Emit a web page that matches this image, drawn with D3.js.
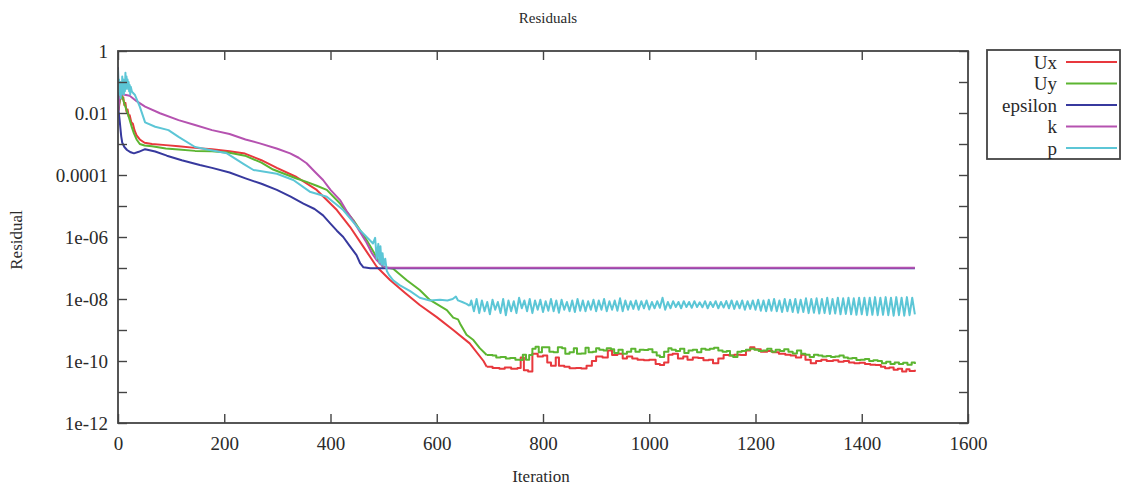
<!DOCTYPE html>
<html><head><meta charset="utf-8">
<script src="https://cdn.jsdelivr.net/npm/d3@7"></script>
<style>
html,body{margin:0;padding:0;background:#fff;}
text{font-family:"Liberation Serif","Times New Roman",serif;fill:#2a2a2a;}
</style></head>
<body><svg id="c" width="1128" height="490"></svg>
<script>
// ---------------- DATA ----------------
const seriesNames = ["Ux","Uy","epsilon","k","p"];
const seriesColors = ["#e8383d","#5cb531","#37399e","#b552b0","#5cc6d6"];
const xTicks = [0,200,400,600,800,1000,1200,1400,1600];
const yTicks = [1,1e-1,1e-2,1e-3,1e-4,1e-5,1e-6,1e-7,1e-8,1e-9,1e-10,1e-11,1e-12];
const yTickLabels = {"1":"1","0.01":"0.01","0.0001":"0.0001","1e-6":"1e-06","1e-8":"1e-08","1e-10":"1e-10","1e-12":"1e-12"};

// [iteration, residual]
const UxHead = [[1,0.012],[4,0.03],[6,0.04],[8,0.028],[10,0.032],[12,0.018],[14,0.021],[16,0.011],[18,0.013],[20,0.008],[22,0.0085],[25,0.005],[28,0.0045],[31,0.0028],[35,0.0019],[41,0.0014],[50,0.0011],[64,0.001],[90,0.00092],[114,0.00085],[145,0.00075],[177,0.00068],[210,0.00058],[239,0.00049],[270,0.0003],[299,0.00017],[336,8.6e-5],[374,3.3e-5],[412,7.4e-6],[437,2.1e-6],[462,4.8e-7],[487,1.1e-7],[512,4.1e-8],[540,1.6e-8],[568,6.4e-9],[600,2.6e-9],[631,1e-9],[662,3.7e-10],[688,1e-10],[694,6.5e-11]];
const UxTail = [[694,6.5e-11],[705,6e-11],[718,5.6e-11],[728,6.2e-11],[740,5.6e-11],[752,6e-11],[758,1.3e-10],[764,5e-11],[772,4.6e-11],[780,1.7e-10],[790,1.4e-10],[800,1.5e-10],[808,9e-11],[815,7e-11],[824,1.3e-10],[830,7e-11],[840,6.5e-11],[850,5.8e-11],[862,6e-11],[872,5.7e-11],[882,7e-11],[892,1e-10],[900,1.4e-10],[912,1.3e-10],[922,2.2e-10],[930,1.55e-10],[940,1.7e-10],[950,1.2e-10],[958,1.4e-10],[968,1.2e-10],[978,1.1e-10],[990,1.05e-10],[1000,1.1e-10],[1012,8e-11],[1020,7.4e-11],[1028,9e-11],[1036,1.6e-10],[1044,1.7e-10],[1054,1.2e-10],[1064,1.4e-10],[1072,1.1e-10],[1082,1.3e-10],[1092,1.25e-10],[1102,1.05e-10],[1112,1.1e-10],[1120,8.5e-11],[1130,1.2e-10],[1140,1.55e-10],[1150,1.5e-10],[1160,1.6e-10],[1172,1.55e-10],[1182,2.2e-10],[1190,2.8e-10],[1198,2.4e-10],[1210,2e-10],[1222,2.1e-10],[1232,1.9e-10],[1244,1.7e-10],[1256,1.6e-10],[1266,1.5e-10],[1276,1.3e-10],[1286,1.6e-10],[1294,1.1e-10],[1304,8.5e-11],[1314,1e-10],[1324,1.1e-10],[1334,1e-10],[1346,1.05e-10],[1356,9.5e-11],[1366,1e-10],[1376,9e-11],[1386,8.5e-11],[1396,8.8e-11],[1406,8e-11],[1416,7.6e-11],[1426,7.4e-11],[1436,6.5e-11],[1444,5.8e-11],[1452,6.2e-11],[1460,5.2e-11],[1468,5.6e-11],[1476,4.6e-11],[1484,5.4e-11],[1490,4.8e-11],[1500,5.2e-11]];

const UyHead = [[1,0.015],[4,0.03],[6,0.04],[9,0.03],[12,0.02],[15,0.014],[18,0.01],[22,0.006],[26,0.0035],[30,0.0022],[35,0.0014],[41,0.001],[50,0.0009],[64,0.00085],[90,0.00072],[114,0.00066],[145,0.0006],[177,0.00058],[210,0.00052],[239,0.00042],[270,0.00025],[292,0.00015],[336,7.7e-5],[355,6e-5],[374,4.5e-5],[393,3.3e-5],[418,1.2e-5],[443,3.5e-6],[468,8e-7],[487,2.2e-7],[493,1.4e-7],[495,1.9e-7],[498,1.1e-7],[518,9.5e-8],[543,4.1e-8],[568,1.95e-8],[587,9.3e-9],[619,4.4e-9],[631,2.5e-9],[640,2.2e-9],[644,1.6e-9],[656,7e-10],[669,4.75e-10],[681,2.6e-10],[694,1.56e-10]];
const UyTail = [[694,1.56e-10],[705,1.5e-10],[712,1.3e-10],[720,1.35e-10],[730,1.2e-10],[738,1.25e-10],[748,1.1e-10],[757,1.08e-10],[762,1.6e-10],[768,1.1e-10],[774,1.56e-10],[780,2.5e-10],[786,2.9e-10],[792,1.9e-10],[798,2.8e-10],[806,2.8e-10],[812,2e-10],[820,1.9e-10],[828,2.8e-10],[836,2.6e-10],[842,1.7e-10],[850,1.9e-10],[858,2.6e-10],[864,1.7e-10],[872,1.75e-10],[880,2.7e-10],[886,1.9e-10],[894,2e-10],[900,2.6e-10],[906,2.3e-10],[914,2.2e-10],[920,2.6e-10],[928,2.4e-10],[934,1.8e-10],[942,2.3e-10],[950,1.7e-10],[958,2e-10],[966,2.5e-10],[974,2e-10],[982,2.3e-10],[990,2.26e-10],[998,2.4e-10],[1006,1.9e-10],[1014,1.5e-10],[1020,1.35e-10],[1028,2e-10],[1036,2.6e-10],[1042,2.3e-10],[1050,2.1e-10],[1058,2.5e-10],[1066,1.8e-10],[1074,2.2e-10],[1082,2.3e-10],[1090,1.9e-10],[1098,2.5e-10],[1106,2.3e-10],[1114,2.5e-10],[1122,2.7e-10],[1130,2.2e-10],[1138,2e-10],[1146,2.1e-10],[1152,1.5e-10],[1158,1.35e-10],[1166,2e-10],[1174,2.1e-10],[1182,2.3e-10],[1190,2.5e-10],[1198,2.3e-10],[1206,2.1e-10],[1214,2.2e-10],[1222,2.5e-10],[1230,2e-10],[1238,2.3e-10],[1246,2.1e-10],[1254,2.4e-10],[1262,2e-10],[1270,1.75e-10],[1278,2.2e-10],[1286,1.7e-10],[1294,1.6e-10],[1302,1.35e-10],[1310,1.6e-10],[1318,1.5e-10],[1326,1.4e-10],[1334,1.45e-10],[1342,1.35e-10],[1350,1.4e-10],[1358,1.5e-10],[1366,1.3e-10],[1374,1.2e-10],[1382,1.25e-10],[1390,1.08e-10],[1398,1.1e-10],[1406,1.15e-10],[1414,1e-10],[1422,1.05e-10],[1430,1e-10],[1438,8.5e-11],[1446,9.5e-11],[1454,8e-11],[1462,9e-11],[1470,8e-11],[1478,8.8e-11],[1486,7.6e-11],[1494,9e-11],[1500,8e-11]];

const epsilon = [[0,0.3],[1,0.012],[3,0.006],[6,0.0018],[8,0.0011],[12,0.0008],[17,0.00064],[24,0.00054],[30,0.0005],[39,0.00056],[51,0.00068],[70,0.00057],[92,0.00042],[120,0.0003],[154,0.00021],[177,0.00017],[210,0.00012],[240,7.8e-5],[270,5.2e-5],[299,3.3e-5],[325,2e-5],[349,1.2e-5],[370,8e-6],[386,5e-6],[399,2.8e-6],[412,1.6e-6],[424,1e-6],[435,5.5e-7],[449,2.6e-7],[456,1.4e-7],[462,1.05e-7],[475,0.98e-7],[1500,0.98e-7]];

const k = [[0,0.012],[3,0.03],[7,0.04],[15,0.038],[22,0.036],[35,0.024],[51,0.016],[79,0.0098],[114,0.0059],[145,0.0041],[177,0.0028],[210,0.0021],[240,0.0014],[267,0.00105],[300,0.0007],[324,0.0005],[340,0.00036],[355,0.00024],[370,0.00013],[386,6.9e-5],[400,3.3e-5],[418,1.55e-5],[430,7e-6],[442,3.5e-6],[455,1.5e-6],[468,6.5e-7],[478,3e-7],[487,1.8e-7],[497,1.2e-7],[506,1.02e-7],[1500,1.02e-7]];

const pHead = [[0,0.25],[1,0.05],[2,0.12],[3,0.04],[4,0.1],[5,0.03],[6,0.08],[7,0.04],[8,0.15],[9,0.05],[10,0.12],[11,0.04],[12,0.09],[13,0.05],[14,0.2],[15,0.06],[16,0.15],[17,0.07],[18,0.12],[19,0.06],[20,0.1],[21,0.05],[22,0.08],[23,0.04],[24,0.07],[26,0.05],[28,0.045],[32,0.038],[41,0.016],[51,0.005],[70,0.0036],[95,0.0028],[114,0.0017],[145,0.0008],[173,0.00064],[205,0.0005],[236,0.00023],[255,0.000145],[299,0.00011],[330,6.9e-5],[361,2.9e-5],[393,2e-5],[424,7.4e-6],[455,1.7e-6],[480,6.2e-7],[484,9.4e-7],[487,2e-7],[490,6e-7],[492,1.5e-7],[494,5e-7],[496,1.3e-7],[498,3e-7],[500,1.2e-7],[503,2e-7],[506,8e-8],[510,6e-8],[518,4e-8],[530,2.8e-8],[550,1.8e-8],[568,1.1e-8],[587,9e-9],[606,9.5e-9],[620,9e-9],[630,1e-8],[636,1.2e-8],[640,9e-9],[648,8e-9],[656,7e-9],[662,6e-9]];
const pTailStart = 665, pTailStep = 5;
const pTail = [
9e-9,4e-9,1e-8,3.5e-9,9e-9,4e-9,8e-9,3.2e-9,9.5e-9,4.5e-9,
8e-9,3.5e-9,1e-8,3e-9,9e-9,4e-9,8.5e-9,3.5e-9,1.1e-8,5e-9,
9e-9,4e-9,1e-8,3.5e-9,9e-9,4.5e-9,9.5e-9,3.8e-9,8.5e-9,4.2e-9,
1e-8,4e-9,9e-9,3.6e-9,9.5e-9,4.5e-9,8e-9,4e-9,9e-9,3.8e-9,
1e-8,4.2e-9,9e-9,4e-9,8.5e-9,4.5e-9,9.5e-9,4e-9,9e-9,4.5e-9,
1e-8,4e-9,8.5e-9,4.5e-9,9e-9,4.2e-9,1.05e-8,4e-9,9e-9,4.5e-9,
8.5e-9,4.8e-9,9e-9,4.5e-9,8.5e-9,5e-9,9e-9,4.6e-9,8e-9,5e-9,
8.5e-9,5.2e-9,1.1e-8,4.5e-9,8e-9,5e-9,8.5e-9,5.5e-9,8e-9,5e-9,
8.5e-9,5.5e-9,8e-9,5.2e-9,8.5e-9,5.5e-9,7.8e-9,5.4e-9,8.5e-9,5e-9,
8e-9,5.5e-9,8.5e-9,5e-9,8e-9,5.3e-9,8.6e-9,5e-9,9e-9,4.8e-9,
8.5e-9,5e-9,9e-9,4.5e-9,8.5e-9,4.8e-9,9e-9,4.5e-9,9.5e-9,4.2e-9,
9e-9,4e-9,9.5e-9,4.2e-9,1e-8,4e-9,9e-9,3.8e-9,1e-8,4e-9,
9.5e-9,3.8e-9,1e-8,3.6e-9,9.5e-9,3.8e-9,1.05e-8,3.5e-9,1e-8,3.6e-9,
1.05e-8,3.4e-9,1e-8,3.5e-9,1.1e-8,3.3e-9,1e-8,3.4e-9,1.1e-8,3.2e-9,
1.05e-8,3.3e-9,1.1e-8,3.2e-9,1.05e-8,3.1e-9,1.1e-8,3.2e-9,1.1e-8,3e-9,
1.1e-8,3.1e-9,1.15e-8,3e-9,1.1e-8,3.1e-9,1.15e-8,3e-9,1.1e-8,2.9e-9,
1.15e-8,3e-9,1.1e-8,2.9e-9,1.15e-8,3e-9,1.1e-8,3.2e-9];

// ---------------- CHART ----------------
const svg = d3.select("#c");
const L = 118, R = 968, T = 51, B = 423;
const x = d3.scaleLinear().domain([0,1600]).range([L,R]);
const y = d3.scaleLog().domain([1e-12,1]).range([B,T]);
const FS = 19;

const plot = svg.append("g");
plot.append("clipPath").attr("id","clip").append("rect").attr("x",L).attr("y",T).attr("width",R-L).attr("height",B-T);

const lineLin = d3.line().x(d=>x(d[0])).y(d=>y(d[1]));
const lineStep = d3.line().x(d=>x(d[0])).y(d=>y(d[1])).curve(d3.curveStepAfter);
const pTailPts = pTail.map((v,i)=>[pTailStart+i*pTailStep, v]);

const layers = [
  {d:UxHead, gen:lineLin, c:0},{d:UxTail, gen:lineStep, c:0},
  {d:UyHead, gen:lineLin, c:1},{d:UyTail, gen:lineStep, c:1},
  {d:epsilon, gen:lineLin, c:2},
  {d:k, gen:lineLin, c:3},
  {d:pHead, gen:lineLin, c:4},{d:[pHead[pHead.length-1]].concat(pTailPts), gen:lineLin, c:4}
];
const lg = plot.append("g").attr("clip-path","url(#clip)");
layers.forEach(l=>{
  lg.append("path").attr("d", l.gen(l.d)).attr("fill","none")
    .attr("stroke", seriesColors[l.c]).attr("stroke-width",2).attr("stroke-linejoin","round");
});

// axes (gnuplot style: inward ticks, mirrored)
const axisCol = "#444";
const gx = svg.append("g").attr("transform",`translate(0,${B})`)
  .call(d3.axisBottom(x).tickValues(xTicks).tickSize(-9).tickPadding(14).tickFormat(d3.format("d")));
const gxt = svg.append("g").attr("transform",`translate(0,${T})`)
  .call(d3.axisTop(x).tickValues(xTicks).tickSize(-9).tickFormat(""));
const gy = svg.append("g").attr("transform",`translate(${L},0)`)
  .call(d3.axisLeft(y).tickValues(yTicks).tickSize(-9).tickPadding(10)
    .tickFormat(d=>{const key = d>=1?"1":(Math.log10(d)>-5? String(d): "1e"+Math.round(Math.log10(d))); return yTickLabels[key]||"";}));
const gyr = svg.append("g").attr("transform",`translate(${R},0)`)
  .call(d3.axisRight(y).tickValues(yTicks).tickSize(-9).tickFormat(""));
[gx,gxt,gy,gyr].forEach(g=>{
  g.select(".domain").remove();
  g.selectAll(".tick line").attr("stroke",axisCol).attr("stroke-width",1.4);
  g.selectAll("text").attr("font-size",FS).attr("font-family","Liberation Serif").attr("fill","#2a2a2a");
});
svg.append("rect").attr("x",L).attr("y",T).attr("width",R-L).attr("height",B-T)
  .attr("fill","none").attr("stroke",axisCol).attr("stroke-width",1.8);

// titles
svg.append("text").attr("x",548).attr("y",23).attr("text-anchor","middle").attr("font-size",15).text("Residuals");
svg.append("text").attr("x",541).attr("y",482).attr("text-anchor","middle").attr("font-size",17).text("Iteration");
svg.append("text").attr("transform","translate(22,240) rotate(-90)").attr("text-anchor","middle").attr("font-size",17).text("Residual");

// legend
const leg = svg.append("g");
leg.append("rect").attr("x",987).attr("y",50).attr("width",133).attr("height",109)
  .attr("fill","#fff").attr("stroke",axisCol).attr("stroke-width",1.8);
seriesNames.forEach((n,i)=>{
  const yy = 62 + i*21.5;
  leg.append("text").attr("x",1057).attr("y",yy).attr("dy","0.35em").attr("text-anchor","end").attr("font-size",FS).text(n);
  leg.append("line").attr("x1",1066).attr("x2",1117).attr("y1",yy).attr("y2",yy)
    .attr("stroke",seriesColors[i]).attr("stroke-width",2);
});
</script></body></html>
